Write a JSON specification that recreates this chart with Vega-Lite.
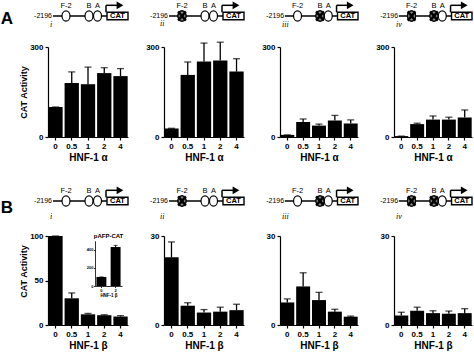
{
  "$schema": "https://vega.github.io/schema/vega-lite/v6.json",
  "autosize": {"type": "none"},
  "padding": {"left": 48, "top": 5, "right": 426, "bottom": 348},
  "background": "white",
  "columns": 4,
  "bounds": "flush",
  "align": "each",
  "spacing": {"row": 10, "column": 36},
  "datasets": {
    "bars": [
      {"panel": "A-i", "dose": "0", "value": 100, "hi": 100},
      {"panel": "A-i", "dose": "0.5", "value": 180, "hi": 217},
      {"panel": "A-i", "dose": "1", "value": 176, "hi": 233},
      {"panel": "A-i", "dose": "2", "value": 213, "hi": 231},
      {"panel": "A-i", "dose": "4", "value": 203, "hi": 228},
      {"panel": "A-ii", "dose": "0", "value": 28, "hi": 29},
      {"panel": "A-ii", "dose": "0.5", "value": 207, "hi": 250},
      {"panel": "A-ii", "dose": "1", "value": 252, "hi": 313},
      {"panel": "A-ii", "dose": "2", "value": 255, "hi": 316},
      {"panel": "A-ii", "dose": "4", "value": 218, "hi": 261},
      {"panel": "A-iii", "dose": "0", "value": 7, "hi": 7},
      {"panel": "A-iii", "dose": "0.5", "value": 50, "hi": 60},
      {"panel": "A-iii", "dose": "1", "value": 38, "hi": 43},
      {"panel": "A-iii", "dose": "2", "value": 55, "hi": 72},
      {"panel": "A-iii", "dose": "4", "value": 45, "hi": 57},
      {"panel": "A-iv", "dose": "0", "value": 3, "hi": 3},
      {"panel": "A-iv", "dose": "0.5", "value": 43, "hi": 46},
      {"panel": "A-iv", "dose": "1", "value": 58, "hi": 70},
      {"panel": "A-iv", "dose": "2", "value": 58, "hi": 66},
      {"panel": "A-iv", "dose": "4", "value": 65, "hi": 90},
      {"panel": "B-i", "dose": "0", "value": 100, "hi": 100},
      {"panel": "B-i", "dose": "0.5", "value": 30, "hi": 36},
      {"panel": "B-i", "dose": "1", "value": 12, "hi": 13},
      {"panel": "B-i", "dose": "2", "value": 11, "hi": 11.5},
      {"panel": "B-i", "dose": "4", "value": 9.5, "hi": 10.5},
      {"panel": "B-ii", "dose": "0", "value": 22.8, "hi": 28},
      {"panel": "B-ii", "dose": "0.5", "value": 6.5, "hi": 7.5},
      {"panel": "B-ii", "dose": "1", "value": 4.2, "hi": 5.2},
      {"panel": "B-ii", "dose": "2", "value": 4.5, "hi": 6},
      {"panel": "B-ii", "dose": "4", "value": 5, "hi": 7},
      {"panel": "B-iii", "dose": "0", "value": 7.6, "hi": 8.8},
      {"panel": "B-iii", "dose": "0.5", "value": 13, "hi": 17.6},
      {"panel": "B-iii", "dose": "1", "value": 8.4, "hi": 11},
      {"panel": "B-iii", "dose": "2", "value": 4.5, "hi": 5.3},
      {"panel": "B-iii", "dose": "4", "value": 2.8, "hi": 3},
      {"panel": "B-iv", "dose": "0", "value": 3.2, "hi": 4.3},
      {"panel": "B-iv", "dose": "0.5", "value": 4.8, "hi": 6},
      {"panel": "B-iv", "dose": "1", "value": 4, "hi": 4.8},
      {"panel": "B-iv", "dose": "2", "value": 3.8, "hi": 4.7},
      {"panel": "B-iv", "dose": "4", "value": 4, "hi": 5.5}
    ],
    "inset": [
      {"dose": "0", "value": 100, "hi": 100},
      {"dose": "2", "value": 430, "hi": 448}
    ],
    "promoter": [
      {"element": "-2196", "kind": "label", "pos": -5},
      {"element": "line", "kind": "line", "start": 5, "end": 60},
      {"element": "F-2", "kind": "site", "pos": 18},
      {"element": "B", "kind": "site", "pos": 41},
      {"element": "A", "kind": "site", "pos": 49.5},
      {"element": "TSS", "kind": "tss", "start": 58, "end": 72},
      {"element": "CAT", "kind": "gene", "start": 59, "end": 80, "pos": 69.5}
    ],
    "mutations": [
      {"col": "ii", "site": "F-2", "pos": 18},
      {"col": "iii", "site": "B", "pos": 41},
      {"col": "iv", "site": "F-2", "pos": 18},
      {"col": "iv", "site": "B", "pos": 41}
    ]
  },
  "concat": [
    {
      "width": 80, "height": 32,
      "data": {"name": "promoter"},
      "layer": [
        {"transform": [{"filter": "datum.kind === 'line'"}], "mark": {"type": "rule", "color": "black", "strokeWidth": 1.3},
         "encoding": {"x": {"field": "start", "type": "quantitative", "scale": {"domain": [0, 80], "nice": false, "zero": false}, "axis": null}, "x2": {"field": "end"},
                      "y": {"datum": 0, "type": "quantitative", "scale": {"domain": [-21, 11], "nice": false, "zero": false}, "axis": null}}},
        {"transform": [{"filter": "datum.kind === 'tss'"}], "mark": {"type": "rule", "color": "black", "strokeWidth": 1.5},
         "encoding": {"x": {"field": "start", "type": "quantitative"}, "y": {"datum": 3.7, "type": "quantitative"}, "y2": {"datum": 10.7}}},
        {"transform": [{"filter": "datum.kind === 'tss'"}], "mark": {"type": "rule", "color": "black", "strokeWidth": 1.5},
         "encoding": {"x": {"field": "start", "type": "quantitative"}, "x2": {"field": "end"}, "y": {"datum": 10.7, "type": "quantitative"}}},
        {"transform": [{"filter": "datum.kind === 'tss'"}], "mark": {"type": "point", "shape": "triangle-right", "size": 60, "filled": true, "color": "black", "opacity": 1},
         "encoding": {"x": {"field": "end", "type": "quantitative"}, "y": {"datum": 10.7, "type": "quantitative"}}},
        {"transform": [{"filter": "datum.kind === 'gene'"}], "mark": {"type": "rect", "fill": "white", "stroke": "black", "strokeWidth": 1.4},
         "encoding": {"x": {"field": "start", "type": "quantitative"}, "x2": {"field": "end"}, "y": {"datum": -3.8, "type": "quantitative"}, "y2": {"datum": 3.8}}},
        {"transform": [{"filter": "datum.kind === 'gene'"}], "mark": {"type": "text", "fontWeight": "bold", "fontSize": 7.5, "baseline": "middle", "align": "center", "color": "black"},
         "encoding": {"x": {"field": "pos", "type": "quantitative"}, "y": {"datum": 0, "type": "quantitative"}, "text": {"field": "element"}}},
        {"transform": [{"filter": "datum.kind === 'site'"}], "mark": {"type": "point", "shape": "M0,-1A0.78,1 0 1,1 0,1A0.78,1 0 1,1 0,-1Z", "size": 105, "filled": true, "fill": "white", "stroke": "black", "strokeWidth": 1.2, "opacity": 1},
         "encoding": {"x": {"field": "pos", "type": "quantitative"}, "y": {"datum": 0, "type": "quantitative"}}},
        {"transform": [{"filter": "datum.kind === 'site'"}], "mark": {"type": "text", "fontSize": 7.5, "baseline": "middle", "align": "center", "color": "black"},
         "encoding": {"x": {"field": "pos", "type": "quantitative"}, "y": {"datum": 10.5, "type": "quantitative"}, "text": {"field": "element"}}},
        {"transform": [{"filter": "datum.kind === 'label'"}], "mark": {"type": "text", "fontSize": 7, "baseline": "middle", "align": "center", "color": "black"},
         "encoding": {"x": {"field": "pos", "type": "quantitative"}, "y": {"datum": 0, "type": "quantitative"}, "text": {"field": "element"}}},
        {"data": {"values": [{"letter": "A"}]}, "mark": {"type": "text", "fontSize": 17, "fontWeight": "bold", "baseline": "middle", "align": "center", "color": "black"},
         "encoding": {"x": {"datum": -41, "type": "quantitative"}, "y": {"datum": -2.7, "type": "quantitative"}, "text": {"field": "letter"}}}
      ]
    },
    {
      "width": 80, "height": 32,
      "data": {"name": "promoter"},
      "layer": [
        {"transform": [{"filter": "datum.kind === 'line'"}], "mark": {"type": "rule", "color": "black", "strokeWidth": 1.3},
         "encoding": {"x": {"field": "start", "type": "quantitative", "scale": {"domain": [0, 80], "nice": false, "zero": false}, "axis": null}, "x2": {"field": "end"},
                      "y": {"datum": 0, "type": "quantitative", "scale": {"domain": [-21, 11], "nice": false, "zero": false}, "axis": null}}},
        {"transform": [{"filter": "datum.kind === 'tss'"}], "mark": {"type": "rule", "color": "black", "strokeWidth": 1.5},
         "encoding": {"x": {"field": "start", "type": "quantitative"}, "y": {"datum": 3.7, "type": "quantitative"}, "y2": {"datum": 10.7}}},
        {"transform": [{"filter": "datum.kind === 'tss'"}], "mark": {"type": "rule", "color": "black", "strokeWidth": 1.5},
         "encoding": {"x": {"field": "start", "type": "quantitative"}, "x2": {"field": "end"}, "y": {"datum": 10.7, "type": "quantitative"}}},
        {"transform": [{"filter": "datum.kind === 'tss'"}], "mark": {"type": "point", "shape": "triangle-right", "size": 60, "filled": true, "color": "black", "opacity": 1},
         "encoding": {"x": {"field": "end", "type": "quantitative"}, "y": {"datum": 10.7, "type": "quantitative"}}},
        {"transform": [{"filter": "datum.kind === 'gene'"}], "mark": {"type": "rect", "fill": "white", "stroke": "black", "strokeWidth": 1.4},
         "encoding": {"x": {"field": "start", "type": "quantitative"}, "x2": {"field": "end"}, "y": {"datum": -3.8, "type": "quantitative"}, "y2": {"datum": 3.8}}},
        {"transform": [{"filter": "datum.kind === 'gene'"}], "mark": {"type": "text", "fontWeight": "bold", "fontSize": 7.5, "baseline": "middle", "align": "center", "color": "black"},
         "encoding": {"x": {"field": "pos", "type": "quantitative"}, "y": {"datum": 0, "type": "quantitative"}, "text": {"field": "element"}}},
        {"transform": [{"filter": "datum.kind === 'site'"}], "mark": {"type": "point", "shape": "M0,-1A0.78,1 0 1,1 0,1A0.78,1 0 1,1 0,-1Z", "size": 105, "filled": true, "fill": "white", "stroke": "black", "strokeWidth": 1.2, "opacity": 1},
         "encoding": {"x": {"field": "pos", "type": "quantitative"}, "y": {"datum": 0, "type": "quantitative"}}},
        {"data": {"name": "mutations"}, "transform": [{"filter": "datum.col === 'ii'"}], "mark": {"type": "point", "shape": "M0,-1A0.78,1 0 1,1 0,1A0.78,1 0 1,1 0,-1Z", "size": 105, "filled": true, "fill": "#8a8a8a", "stroke": "black", "strokeWidth": 1.2, "opacity": 1},
         "encoding": {"x": {"field": "pos", "type": "quantitative"}, "y": {"datum": 0, "type": "quantitative"}}},
        {"data": {"name": "mutations"}, "transform": [{"filter": "datum.col === 'ii'"}], "mark": {"type": "point", "shape": "M-0.75,-0.9L0.75,0.9M0.75,-0.9L-0.75,0.9", "size": 105, "filled": false, "stroke": "black", "strokeWidth": 2.4, "opacity": 1},
         "encoding": {"x": {"field": "pos", "type": "quantitative"}, "y": {"datum": 0, "type": "quantitative"}}},
        {"transform": [{"filter": "datum.kind === 'site'"}], "mark": {"type": "text", "fontSize": 7.5, "baseline": "middle", "align": "center", "color": "black"},
         "encoding": {"x": {"field": "pos", "type": "quantitative"}, "y": {"datum": 10.5, "type": "quantitative"}, "text": {"field": "element"}}},
        {"transform": [{"filter": "datum.kind === 'label'"}], "mark": {"type": "text", "fontSize": 7, "baseline": "middle", "align": "center", "color": "black"},
         "encoding": {"x": {"field": "pos", "type": "quantitative"}, "y": {"datum": 0, "type": "quantitative"}, "text": {"field": "element"}}}
      ]
    },
    {
      "width": 78, "height": 32,
      "data": {"name": "promoter"},
      "layer": [
        {"transform": [{"filter": "datum.kind === 'line'"}], "mark": {"type": "rule", "color": "black", "strokeWidth": 1.3},
         "encoding": {"x": {"field": "start", "type": "quantitative", "scale": {"domain": [0, 80], "nice": false, "zero": false}, "axis": null}, "x2": {"field": "end"},
                      "y": {"datum": 0, "type": "quantitative", "scale": {"domain": [-21, 11], "nice": false, "zero": false}, "axis": null}}},
        {"transform": [{"filter": "datum.kind === 'tss'"}], "mark": {"type": "rule", "color": "black", "strokeWidth": 1.5},
         "encoding": {"x": {"field": "start", "type": "quantitative"}, "y": {"datum": 3.7, "type": "quantitative"}, "y2": {"datum": 10.7}}},
        {"transform": [{"filter": "datum.kind === 'tss'"}], "mark": {"type": "rule", "color": "black", "strokeWidth": 1.5},
         "encoding": {"x": {"field": "start", "type": "quantitative"}, "x2": {"field": "end"}, "y": {"datum": 10.7, "type": "quantitative"}}},
        {"transform": [{"filter": "datum.kind === 'tss'"}], "mark": {"type": "point", "shape": "triangle-right", "size": 60, "filled": true, "color": "black", "opacity": 1},
         "encoding": {"x": {"field": "end", "type": "quantitative"}, "y": {"datum": 10.7, "type": "quantitative"}}},
        {"transform": [{"filter": "datum.kind === 'gene'"}], "mark": {"type": "rect", "fill": "white", "stroke": "black", "strokeWidth": 1.4},
         "encoding": {"x": {"field": "start", "type": "quantitative"}, "x2": {"field": "end"}, "y": {"datum": -3.8, "type": "quantitative"}, "y2": {"datum": 3.8}}},
        {"transform": [{"filter": "datum.kind === 'gene'"}], "mark": {"type": "text", "fontWeight": "bold", "fontSize": 7.5, "baseline": "middle", "align": "center", "color": "black"},
         "encoding": {"x": {"field": "pos", "type": "quantitative"}, "y": {"datum": 0, "type": "quantitative"}, "text": {"field": "element"}}},
        {"transform": [{"filter": "datum.kind === 'site'"}], "mark": {"type": "point", "shape": "M0,-1A0.78,1 0 1,1 0,1A0.78,1 0 1,1 0,-1Z", "size": 105, "filled": true, "fill": "white", "stroke": "black", "strokeWidth": 1.2, "opacity": 1},
         "encoding": {"x": {"field": "pos", "type": "quantitative"}, "y": {"datum": 0, "type": "quantitative"}}},
        {"data": {"name": "mutations"}, "transform": [{"filter": "datum.col === 'iii'"}], "mark": {"type": "point", "shape": "M0,-1A0.78,1 0 1,1 0,1A0.78,1 0 1,1 0,-1Z", "size": 105, "filled": true, "fill": "#8a8a8a", "stroke": "black", "strokeWidth": 1.2, "opacity": 1},
         "encoding": {"x": {"field": "pos", "type": "quantitative"}, "y": {"datum": 0, "type": "quantitative"}}},
        {"data": {"name": "mutations"}, "transform": [{"filter": "datum.col === 'iii'"}], "mark": {"type": "point", "shape": "M-0.75,-0.9L0.75,0.9M0.75,-0.9L-0.75,0.9", "size": 105, "filled": false, "stroke": "black", "strokeWidth": 2.4, "opacity": 1},
         "encoding": {"x": {"field": "pos", "type": "quantitative"}, "y": {"datum": 0, "type": "quantitative"}}},
        {"transform": [{"filter": "datum.kind === 'site'"}], "mark": {"type": "text", "fontSize": 7.5, "baseline": "middle", "align": "center", "color": "black"},
         "encoding": {"x": {"field": "pos", "type": "quantitative"}, "y": {"datum": 10.5, "type": "quantitative"}, "text": {"field": "element"}}},
        {"transform": [{"filter": "datum.kind === 'label'"}], "mark": {"type": "text", "fontSize": 7, "baseline": "middle", "align": "center", "color": "black"},
         "encoding": {"x": {"field": "pos", "type": "quantitative"}, "y": {"datum": 0, "type": "quantitative"}, "text": {"field": "element"}}}
      ]
    },
    {
      "width": 78, "height": 32,
      "data": {"name": "promoter"},
      "layer": [
        {"transform": [{"filter": "datum.kind === 'line'"}], "mark": {"type": "rule", "color": "black", "strokeWidth": 1.3},
         "encoding": {"x": {"field": "start", "type": "quantitative", "scale": {"domain": [0, 80], "nice": false, "zero": false}, "axis": null}, "x2": {"field": "end"},
                      "y": {"datum": 0, "type": "quantitative", "scale": {"domain": [-21, 11], "nice": false, "zero": false}, "axis": null}}},
        {"transform": [{"filter": "datum.kind === 'tss'"}], "mark": {"type": "rule", "color": "black", "strokeWidth": 1.5},
         "encoding": {"x": {"field": "start", "type": "quantitative"}, "y": {"datum": 3.7, "type": "quantitative"}, "y2": {"datum": 10.7}}},
        {"transform": [{"filter": "datum.kind === 'tss'"}], "mark": {"type": "rule", "color": "black", "strokeWidth": 1.5},
         "encoding": {"x": {"field": "start", "type": "quantitative"}, "x2": {"field": "end"}, "y": {"datum": 10.7, "type": "quantitative"}}},
        {"transform": [{"filter": "datum.kind === 'tss'"}], "mark": {"type": "point", "shape": "triangle-right", "size": 60, "filled": true, "color": "black", "opacity": 1},
         "encoding": {"x": {"field": "end", "type": "quantitative"}, "y": {"datum": 10.7, "type": "quantitative"}}},
        {"transform": [{"filter": "datum.kind === 'gene'"}], "mark": {"type": "rect", "fill": "white", "stroke": "black", "strokeWidth": 1.4},
         "encoding": {"x": {"field": "start", "type": "quantitative"}, "x2": {"field": "end"}, "y": {"datum": -3.8, "type": "quantitative"}, "y2": {"datum": 3.8}}},
        {"transform": [{"filter": "datum.kind === 'gene'"}], "mark": {"type": "text", "fontWeight": "bold", "fontSize": 7.5, "baseline": "middle", "align": "center", "color": "black"},
         "encoding": {"x": {"field": "pos", "type": "quantitative"}, "y": {"datum": 0, "type": "quantitative"}, "text": {"field": "element"}}},
        {"transform": [{"filter": "datum.kind === 'site'"}], "mark": {"type": "point", "shape": "M0,-1A0.78,1 0 1,1 0,1A0.78,1 0 1,1 0,-1Z", "size": 105, "filled": true, "fill": "white", "stroke": "black", "strokeWidth": 1.2, "opacity": 1},
         "encoding": {"x": {"field": "pos", "type": "quantitative"}, "y": {"datum": 0, "type": "quantitative"}}},
        {"data": {"name": "mutations"}, "transform": [{"filter": "datum.col === 'iv'"}], "mark": {"type": "point", "shape": "M0,-1A0.78,1 0 1,1 0,1A0.78,1 0 1,1 0,-1Z", "size": 105, "filled": true, "fill": "#8a8a8a", "stroke": "black", "strokeWidth": 1.2, "opacity": 1},
         "encoding": {"x": {"field": "pos", "type": "quantitative"}, "y": {"datum": 0, "type": "quantitative"}}},
        {"data": {"name": "mutations"}, "transform": [{"filter": "datum.col === 'iv'"}], "mark": {"type": "point", "shape": "M-0.75,-0.9L0.75,0.9M0.75,-0.9L-0.75,0.9", "size": 105, "filled": false, "stroke": "black", "strokeWidth": 2.4, "opacity": 1},
         "encoding": {"x": {"field": "pos", "type": "quantitative"}, "y": {"datum": 0, "type": "quantitative"}}},
        {"transform": [{"filter": "datum.kind === 'site'"}], "mark": {"type": "text", "fontSize": 7.5, "baseline": "middle", "align": "center", "color": "black"},
         "encoding": {"x": {"field": "pos", "type": "quantitative"}, "y": {"datum": 10.5, "type": "quantitative"}, "text": {"field": "element"}}},
        {"transform": [{"filter": "datum.kind === 'label'"}], "mark": {"type": "text", "fontSize": 7, "baseline": "middle", "align": "center", "color": "black"},
         "encoding": {"x": {"field": "pos", "type": "quantitative"}, "y": {"datum": 0, "type": "quantitative"}, "text": {"field": "element"}}}
      ]
    },
    {
      "width": 80, "height": 90,
      "title": {"text": "i", "offset": 14, "dx": 2},
      "data": {"name": "bars"},
      "transform": [{"filter": "datum.panel === 'A-i'"}],
      "encoding": {"x": {"field": "dose", "type": "nominal", "sort": ["0", "0.5", "1", "2", "4"], "scale": {"paddingInner": 0.12, "paddingOuter": 0.02}, "axis": {"title": "HNF-1 α"}}},
      "layer": [
        {"mark": {"type": "bar", "color": "black"}, "encoding": {"y": {"field": "value", "type": "quantitative", "scale": {"domain": [0, 300], "nice": false}, "axis": {"values": [0, 100, 200, 300], "title": "CAT Activity"}}}},
        {"mark": {"type": "rule", "color": "black", "strokeWidth": 1.3}, "encoding": {"y": {"field": "value", "type": "quantitative"}, "y2": {"field": "hi"}}},
        {"mark": {"type": "tick", "color": "black", "thickness": 1.3, "size": 7}, "encoding": {"y": {"field": "hi", "type": "quantitative"}}}
      ]
    },
    {
      "width": 80, "height": 90,
      "title": {"text": "ii", "offset": 14, "dx": -4},
      "data": {"name": "bars"},
      "transform": [{"filter": "datum.panel === 'A-ii'"}],
      "encoding": {"x": {"field": "dose", "type": "nominal", "sort": ["0", "0.5", "1", "2", "4"], "scale": {"paddingInner": 0.12, "paddingOuter": 0.02}, "axis": {"title": "HNF-1 α"}}},
      "layer": [
        {"mark": {"type": "bar", "color": "black"}, "encoding": {"y": {"field": "value", "type": "quantitative", "scale": {"domain": [0, 300], "nice": false}, "axis": {"values": [0, 100, 200, 300], "title": null}}}},
        {"mark": {"type": "rule", "color": "black", "strokeWidth": 1.3}, "encoding": {"y": {"field": "value", "type": "quantitative"}, "y2": {"field": "hi"}}},
        {"mark": {"type": "tick", "color": "black", "thickness": 1.3, "size": 7}, "encoding": {"y": {"field": "hi", "type": "quantitative"}}}
      ]
    },
    {
      "width": 78, "height": 90,
      "title": {"text": "iii", "offset": 14, "dx": 2},
      "data": {"name": "bars"},
      "transform": [{"filter": "datum.panel === 'A-iii'"}],
      "encoding": {"x": {"field": "dose", "type": "nominal", "sort": ["0", "0.5", "1", "2", "4"], "scale": {"paddingInner": 0.12, "paddingOuter": 0.02}, "axis": {"title": "HNF-1 α"}}},
      "layer": [
        {"mark": {"type": "bar", "color": "black"}, "encoding": {"y": {"field": "value", "type": "quantitative", "scale": {"domain": [0, 300], "nice": false}, "axis": {"values": [0, 100, 200, 300], "title": null}}}},
        {"mark": {"type": "rule", "color": "black", "strokeWidth": 1.3}, "encoding": {"y": {"field": "value", "type": "quantitative"}, "y2": {"field": "hi"}}},
        {"mark": {"type": "tick", "color": "black", "thickness": 1.3, "size": 7}, "encoding": {"y": {"field": "hi", "type": "quantitative"}}}
      ]
    },
    {
      "width": 78, "height": 90,
      "title": {"text": "iv", "offset": 14, "dx": 2},
      "data": {"name": "bars"},
      "transform": [{"filter": "datum.panel === 'A-iv'"}],
      "encoding": {"x": {"field": "dose", "type": "nominal", "sort": ["0", "0.5", "1", "2", "4"], "scale": {"paddingInner": 0.12, "paddingOuter": 0.02}, "axis": {"title": "HNF-1 α"}}},
      "layer": [
        {"mark": {"type": "bar", "color": "black"}, "encoding": {"y": {"field": "value", "type": "quantitative", "scale": {"domain": [0, 300], "nice": false}, "axis": {"values": [0, 100, 200, 300], "title": null}}}},
        {"mark": {"type": "rule", "color": "black", "strokeWidth": 1.3}, "encoding": {"y": {"field": "value", "type": "quantitative"}, "y2": {"field": "hi"}}},
        {"mark": {"type": "tick", "color": "black", "thickness": 1.3, "size": 7}, "encoding": {"y": {"field": "hi", "type": "quantitative"}}}
      ]
    },
    {
      "width": 80, "height": 79,
      "data": {"name": "promoter"},
      "layer": [
        {"transform": [{"filter": "datum.kind === 'line'"}], "mark": {"type": "rule", "color": "black", "strokeWidth": 1.3},
         "encoding": {"x": {"field": "start", "type": "quantitative", "scale": {"domain": [0, 80], "nice": false, "zero": false}, "axis": null}, "x2": {"field": "end"},
                      "y": {"datum": 0, "type": "quantitative", "scale": {"domain": [-25, 54], "nice": false, "zero": false}, "axis": null}}},
        {"transform": [{"filter": "datum.kind === 'tss'"}], "mark": {"type": "rule", "color": "black", "strokeWidth": 1.5},
         "encoding": {"x": {"field": "start", "type": "quantitative"}, "y": {"datum": 3.7, "type": "quantitative"}, "y2": {"datum": 10.7}}},
        {"transform": [{"filter": "datum.kind === 'tss'"}], "mark": {"type": "rule", "color": "black", "strokeWidth": 1.5},
         "encoding": {"x": {"field": "start", "type": "quantitative"}, "x2": {"field": "end"}, "y": {"datum": 10.7, "type": "quantitative"}}},
        {"transform": [{"filter": "datum.kind === 'tss'"}], "mark": {"type": "point", "shape": "triangle-right", "size": 60, "filled": true, "color": "black", "opacity": 1},
         "encoding": {"x": {"field": "end", "type": "quantitative"}, "y": {"datum": 10.7, "type": "quantitative"}}},
        {"transform": [{"filter": "datum.kind === 'gene'"}], "mark": {"type": "rect", "fill": "white", "stroke": "black", "strokeWidth": 1.4},
         "encoding": {"x": {"field": "start", "type": "quantitative"}, "x2": {"field": "end"}, "y": {"datum": -3.8, "type": "quantitative"}, "y2": {"datum": 3.8}}},
        {"transform": [{"filter": "datum.kind === 'gene'"}], "mark": {"type": "text", "fontWeight": "bold", "fontSize": 7.5, "baseline": "middle", "align": "center", "color": "black"},
         "encoding": {"x": {"field": "pos", "type": "quantitative"}, "y": {"datum": 0, "type": "quantitative"}, "text": {"field": "element"}}},
        {"transform": [{"filter": "datum.kind === 'site'"}], "mark": {"type": "point", "shape": "M0,-1A0.78,1 0 1,1 0,1A0.78,1 0 1,1 0,-1Z", "size": 105, "filled": true, "fill": "white", "stroke": "black", "strokeWidth": 1.2, "opacity": 1},
         "encoding": {"x": {"field": "pos", "type": "quantitative"}, "y": {"datum": 0, "type": "quantitative"}}},
        {"transform": [{"filter": "datum.kind === 'site'"}], "mark": {"type": "text", "fontSize": 7.5, "baseline": "middle", "align": "center", "color": "black"},
         "encoding": {"x": {"field": "pos", "type": "quantitative"}, "y": {"datum": 10.5, "type": "quantitative"}, "text": {"field": "element"}}},
        {"transform": [{"filter": "datum.kind === 'label'"}], "mark": {"type": "text", "fontSize": 7, "baseline": "middle", "align": "center", "color": "black"},
         "encoding": {"x": {"field": "pos", "type": "quantitative"}, "y": {"datum": 0, "type": "quantitative"}, "text": {"field": "element"}}},
        {"data": {"values": [{"letter": "B"}]}, "mark": {"type": "text", "fontSize": 17, "fontWeight": "bold", "baseline": "middle", "align": "center", "color": "black"},
         "encoding": {"x": {"datum": -41, "type": "quantitative"}, "y": {"datum": -6.5, "type": "quantitative"}, "text": {"field": "letter"}}}
      ]
    },
    {
      "width": 80, "height": 79,
      "data": {"name": "promoter"},
      "layer": [
        {"transform": [{"filter": "datum.kind === 'line'"}], "mark": {"type": "rule", "color": "black", "strokeWidth": 1.3},
         "encoding": {"x": {"field": "start", "type": "quantitative", "scale": {"domain": [0, 80], "nice": false, "zero": false}, "axis": null}, "x2": {"field": "end"},
                      "y": {"datum": 0, "type": "quantitative", "scale": {"domain": [-25, 54], "nice": false, "zero": false}, "axis": null}}},
        {"transform": [{"filter": "datum.kind === 'tss'"}], "mark": {"type": "rule", "color": "black", "strokeWidth": 1.5},
         "encoding": {"x": {"field": "start", "type": "quantitative"}, "y": {"datum": 3.7, "type": "quantitative"}, "y2": {"datum": 10.7}}},
        {"transform": [{"filter": "datum.kind === 'tss'"}], "mark": {"type": "rule", "color": "black", "strokeWidth": 1.5},
         "encoding": {"x": {"field": "start", "type": "quantitative"}, "x2": {"field": "end"}, "y": {"datum": 10.7, "type": "quantitative"}}},
        {"transform": [{"filter": "datum.kind === 'tss'"}], "mark": {"type": "point", "shape": "triangle-right", "size": 60, "filled": true, "color": "black", "opacity": 1},
         "encoding": {"x": {"field": "end", "type": "quantitative"}, "y": {"datum": 10.7, "type": "quantitative"}}},
        {"transform": [{"filter": "datum.kind === 'gene'"}], "mark": {"type": "rect", "fill": "white", "stroke": "black", "strokeWidth": 1.4},
         "encoding": {"x": {"field": "start", "type": "quantitative"}, "x2": {"field": "end"}, "y": {"datum": -3.8, "type": "quantitative"}, "y2": {"datum": 3.8}}},
        {"transform": [{"filter": "datum.kind === 'gene'"}], "mark": {"type": "text", "fontWeight": "bold", "fontSize": 7.5, "baseline": "middle", "align": "center", "color": "black"},
         "encoding": {"x": {"field": "pos", "type": "quantitative"}, "y": {"datum": 0, "type": "quantitative"}, "text": {"field": "element"}}},
        {"transform": [{"filter": "datum.kind === 'site'"}], "mark": {"type": "point", "shape": "M0,-1A0.78,1 0 1,1 0,1A0.78,1 0 1,1 0,-1Z", "size": 105, "filled": true, "fill": "white", "stroke": "black", "strokeWidth": 1.2, "opacity": 1},
         "encoding": {"x": {"field": "pos", "type": "quantitative"}, "y": {"datum": 0, "type": "quantitative"}}},
        {"data": {"name": "mutations"}, "transform": [{"filter": "datum.col === 'ii'"}], "mark": {"type": "point", "shape": "M0,-1A0.78,1 0 1,1 0,1A0.78,1 0 1,1 0,-1Z", "size": 105, "filled": true, "fill": "#8a8a8a", "stroke": "black", "strokeWidth": 1.2, "opacity": 1},
         "encoding": {"x": {"field": "pos", "type": "quantitative"}, "y": {"datum": 0, "type": "quantitative"}}},
        {"data": {"name": "mutations"}, "transform": [{"filter": "datum.col === 'ii'"}], "mark": {"type": "point", "shape": "M-0.75,-0.9L0.75,0.9M0.75,-0.9L-0.75,0.9", "size": 105, "filled": false, "stroke": "black", "strokeWidth": 2.4, "opacity": 1},
         "encoding": {"x": {"field": "pos", "type": "quantitative"}, "y": {"datum": 0, "type": "quantitative"}}},
        {"transform": [{"filter": "datum.kind === 'site'"}], "mark": {"type": "text", "fontSize": 7.5, "baseline": "middle", "align": "center", "color": "black"},
         "encoding": {"x": {"field": "pos", "type": "quantitative"}, "y": {"datum": 10.5, "type": "quantitative"}, "text": {"field": "element"}}},
        {"transform": [{"filter": "datum.kind === 'label'"}], "mark": {"type": "text", "fontSize": 7, "baseline": "middle", "align": "center", "color": "black"},
         "encoding": {"x": {"field": "pos", "type": "quantitative"}, "y": {"datum": 0, "type": "quantitative"}, "text": {"field": "element"}}}
      ]
    },
    {
      "width": 78, "height": 79,
      "data": {"name": "promoter"},
      "layer": [
        {"transform": [{"filter": "datum.kind === 'line'"}], "mark": {"type": "rule", "color": "black", "strokeWidth": 1.3},
         "encoding": {"x": {"field": "start", "type": "quantitative", "scale": {"domain": [0, 80], "nice": false, "zero": false}, "axis": null}, "x2": {"field": "end"},
                      "y": {"datum": 0, "type": "quantitative", "scale": {"domain": [-25, 54], "nice": false, "zero": false}, "axis": null}}},
        {"transform": [{"filter": "datum.kind === 'tss'"}], "mark": {"type": "rule", "color": "black", "strokeWidth": 1.5},
         "encoding": {"x": {"field": "start", "type": "quantitative"}, "y": {"datum": 3.7, "type": "quantitative"}, "y2": {"datum": 10.7}}},
        {"transform": [{"filter": "datum.kind === 'tss'"}], "mark": {"type": "rule", "color": "black", "strokeWidth": 1.5},
         "encoding": {"x": {"field": "start", "type": "quantitative"}, "x2": {"field": "end"}, "y": {"datum": 10.7, "type": "quantitative"}}},
        {"transform": [{"filter": "datum.kind === 'tss'"}], "mark": {"type": "point", "shape": "triangle-right", "size": 60, "filled": true, "color": "black", "opacity": 1},
         "encoding": {"x": {"field": "end", "type": "quantitative"}, "y": {"datum": 10.7, "type": "quantitative"}}},
        {"transform": [{"filter": "datum.kind === 'gene'"}], "mark": {"type": "rect", "fill": "white", "stroke": "black", "strokeWidth": 1.4},
         "encoding": {"x": {"field": "start", "type": "quantitative"}, "x2": {"field": "end"}, "y": {"datum": -3.8, "type": "quantitative"}, "y2": {"datum": 3.8}}},
        {"transform": [{"filter": "datum.kind === 'gene'"}], "mark": {"type": "text", "fontWeight": "bold", "fontSize": 7.5, "baseline": "middle", "align": "center", "color": "black"},
         "encoding": {"x": {"field": "pos", "type": "quantitative"}, "y": {"datum": 0, "type": "quantitative"}, "text": {"field": "element"}}},
        {"transform": [{"filter": "datum.kind === 'site'"}], "mark": {"type": "point", "shape": "M0,-1A0.78,1 0 1,1 0,1A0.78,1 0 1,1 0,-1Z", "size": 105, "filled": true, "fill": "white", "stroke": "black", "strokeWidth": 1.2, "opacity": 1},
         "encoding": {"x": {"field": "pos", "type": "quantitative"}, "y": {"datum": 0, "type": "quantitative"}}},
        {"data": {"name": "mutations"}, "transform": [{"filter": "datum.col === 'iii'"}], "mark": {"type": "point", "shape": "M0,-1A0.78,1 0 1,1 0,1A0.78,1 0 1,1 0,-1Z", "size": 105, "filled": true, "fill": "#8a8a8a", "stroke": "black", "strokeWidth": 1.2, "opacity": 1},
         "encoding": {"x": {"field": "pos", "type": "quantitative"}, "y": {"datum": 0, "type": "quantitative"}}},
        {"data": {"name": "mutations"}, "transform": [{"filter": "datum.col === 'iii'"}], "mark": {"type": "point", "shape": "M-0.75,-0.9L0.75,0.9M0.75,-0.9L-0.75,0.9", "size": 105, "filled": false, "stroke": "black", "strokeWidth": 2.4, "opacity": 1},
         "encoding": {"x": {"field": "pos", "type": "quantitative"}, "y": {"datum": 0, "type": "quantitative"}}},
        {"transform": [{"filter": "datum.kind === 'site'"}], "mark": {"type": "text", "fontSize": 7.5, "baseline": "middle", "align": "center", "color": "black"},
         "encoding": {"x": {"field": "pos", "type": "quantitative"}, "y": {"datum": 10.5, "type": "quantitative"}, "text": {"field": "element"}}},
        {"transform": [{"filter": "datum.kind === 'label'"}], "mark": {"type": "text", "fontSize": 7, "baseline": "middle", "align": "center", "color": "black"},
         "encoding": {"x": {"field": "pos", "type": "quantitative"}, "y": {"datum": 0, "type": "quantitative"}, "text": {"field": "element"}}}
      ]
    },
    {
      "width": 78, "height": 79,
      "data": {"name": "promoter"},
      "layer": [
        {"transform": [{"filter": "datum.kind === 'line'"}], "mark": {"type": "rule", "color": "black", "strokeWidth": 1.3},
         "encoding": {"x": {"field": "start", "type": "quantitative", "scale": {"domain": [0, 80], "nice": false, "zero": false}, "axis": null}, "x2": {"field": "end"},
                      "y": {"datum": 0, "type": "quantitative", "scale": {"domain": [-25, 54], "nice": false, "zero": false}, "axis": null}}},
        {"transform": [{"filter": "datum.kind === 'tss'"}], "mark": {"type": "rule", "color": "black", "strokeWidth": 1.5},
         "encoding": {"x": {"field": "start", "type": "quantitative"}, "y": {"datum": 3.7, "type": "quantitative"}, "y2": {"datum": 10.7}}},
        {"transform": [{"filter": "datum.kind === 'tss'"}], "mark": {"type": "rule", "color": "black", "strokeWidth": 1.5},
         "encoding": {"x": {"field": "start", "type": "quantitative"}, "x2": {"field": "end"}, "y": {"datum": 10.7, "type": "quantitative"}}},
        {"transform": [{"filter": "datum.kind === 'tss'"}], "mark": {"type": "point", "shape": "triangle-right", "size": 60, "filled": true, "color": "black", "opacity": 1},
         "encoding": {"x": {"field": "end", "type": "quantitative"}, "y": {"datum": 10.7, "type": "quantitative"}}},
        {"transform": [{"filter": "datum.kind === 'gene'"}], "mark": {"type": "rect", "fill": "white", "stroke": "black", "strokeWidth": 1.4},
         "encoding": {"x": {"field": "start", "type": "quantitative"}, "x2": {"field": "end"}, "y": {"datum": -3.8, "type": "quantitative"}, "y2": {"datum": 3.8}}},
        {"transform": [{"filter": "datum.kind === 'gene'"}], "mark": {"type": "text", "fontWeight": "bold", "fontSize": 7.5, "baseline": "middle", "align": "center", "color": "black"},
         "encoding": {"x": {"field": "pos", "type": "quantitative"}, "y": {"datum": 0, "type": "quantitative"}, "text": {"field": "element"}}},
        {"transform": [{"filter": "datum.kind === 'site'"}], "mark": {"type": "point", "shape": "M0,-1A0.78,1 0 1,1 0,1A0.78,1 0 1,1 0,-1Z", "size": 105, "filled": true, "fill": "white", "stroke": "black", "strokeWidth": 1.2, "opacity": 1},
         "encoding": {"x": {"field": "pos", "type": "quantitative"}, "y": {"datum": 0, "type": "quantitative"}}},
        {"data": {"name": "mutations"}, "transform": [{"filter": "datum.col === 'iv'"}], "mark": {"type": "point", "shape": "M0,-1A0.78,1 0 1,1 0,1A0.78,1 0 1,1 0,-1Z", "size": 105, "filled": true, "fill": "#8a8a8a", "stroke": "black", "strokeWidth": 1.2, "opacity": 1},
         "encoding": {"x": {"field": "pos", "type": "quantitative"}, "y": {"datum": 0, "type": "quantitative"}}},
        {"data": {"name": "mutations"}, "transform": [{"filter": "datum.col === 'iv'"}], "mark": {"type": "point", "shape": "M-0.75,-0.9L0.75,0.9M0.75,-0.9L-0.75,0.9", "size": 105, "filled": false, "stroke": "black", "strokeWidth": 2.4, "opacity": 1},
         "encoding": {"x": {"field": "pos", "type": "quantitative"}, "y": {"datum": 0, "type": "quantitative"}}},
        {"transform": [{"filter": "datum.kind === 'site'"}], "mark": {"type": "text", "fontSize": 7.5, "baseline": "middle", "align": "center", "color": "black"},
         "encoding": {"x": {"field": "pos", "type": "quantitative"}, "y": {"datum": 10.5, "type": "quantitative"}, "text": {"field": "element"}}},
        {"transform": [{"filter": "datum.kind === 'label'"}], "mark": {"type": "text", "fontSize": 7, "baseline": "middle", "align": "center", "color": "black"},
         "encoding": {"x": {"field": "pos", "type": "quantitative"}, "y": {"datum": 0, "type": "quantitative"}, "text": {"field": "element"}}}
      ]
    },
    {
      "width": 80, "height": 89,
      "title": {"text": "i", "offset": 11, "dx": 2},
      "layer": [
        {
          "data": {"name": "bars"},
          "transform": [{"filter": "datum.panel === 'B-i'"}],
          "encoding": {"x": {"field": "dose", "type": "nominal", "sort": ["0", "0.5", "1", "2", "4"], "scale": {"paddingInner": 0.12, "paddingOuter": 0.02}, "axis": {"title": "HNF-1 β"}}},
          "layer": [
            {"mark": {"type": "bar", "color": "black"}, "encoding": {"y": {"field": "value", "type": "quantitative", "scale": {"domain": [0, 100], "nice": false}, "axis": {"values": [0, 50, 100], "title": "CAT Activity", "titleY": 35}}}},
            {"mark": {"type": "rule", "color": "black", "strokeWidth": 1.3}, "encoding": {"y": {"field": "value", "type": "quantitative"}, "y2": {"field": "hi"}}},
            {"mark": {"type": "tick", "color": "black", "thickness": 1.3, "size": 7}, "encoding": {"y": {"field": "hi", "type": "quantitative"}}}
          ]
        },
        {
          "data": {"name": "inset"},
          "encoding": {"x": {"field": "dose", "type": "nominal", "sort": ["0", "2"], "scale": {"range": [47, 74], "paddingInner": 0.3, "paddingOuter": 0.1},
                             "axis": {"orient": "bottom", "offset": -39, "title": "HNF-1 β", "labelFontSize": 4, "titleFontSize": 4.5, "tickSize": 1.5, "labelPadding": 0.5, "titlePadding": 0, "domainWidth": 0.8, "tickWidth": 0.8}}},
          "layer": [
            {"mark": {"type": "bar", "color": "black"}, "encoding": {"y": {"field": "value", "type": "quantitative", "scale": {"domain": [0, 500], "range": [50, 4.7], "nice": false},
              "axis": {"orient": "left", "offset": -47, "values": [0, 100, 200, 300, 400, 500], "title": "pAFP-CAT", "titleAngle": 0, "titleX": 13, "titleY": 1, "titleAlign": "center", "titleBaseline": "alphabetic", "titleFontSize": 6, "labelFontSize": 4, "tickSize": 1.5, "labelPadding": 0.5, "domainWidth": 0.8, "tickWidth": 0.8}}}},
            {"mark": {"type": "rule", "color": "black", "strokeWidth": 1}, "encoding": {"y": {"field": "value", "type": "quantitative"}, "y2": {"field": "hi"}}},
            {"mark": {"type": "tick", "color": "black", "thickness": 1, "size": 4}, "encoding": {"y": {"field": "hi", "type": "quantitative"}}}
          ]
        }
      ],
      "resolve": {"scale": {"x": "independent", "y": "independent"}}
    },
    {
      "width": 80, "height": 89,
      "title": {"text": "ii", "offset": 11, "dx": -4},
      "data": {"name": "bars"},
      "transform": [{"filter": "datum.panel === 'B-ii'"}],
      "encoding": {"x": {"field": "dose", "type": "nominal", "sort": ["0", "0.5", "1", "2", "4"], "scale": {"paddingInner": 0.12, "paddingOuter": 0.02}, "axis": {"title": "HNF-1 β"}}},
      "layer": [
        {"mark": {"type": "bar", "color": "black"}, "encoding": {"y": {"field": "value", "type": "quantitative", "scale": {"domain": [0, 30], "nice": false}, "axis": {"values": [0, 10, 20, 30], "title": null}}}},
        {"mark": {"type": "rule", "color": "black", "strokeWidth": 1.3}, "encoding": {"y": {"field": "value", "type": "quantitative"}, "y2": {"field": "hi"}}},
        {"mark": {"type": "tick", "color": "black", "thickness": 1.3, "size": 7}, "encoding": {"y": {"field": "hi", "type": "quantitative"}}}
      ]
    },
    {
      "width": 78, "height": 89,
      "title": {"text": "iii", "offset": 11, "dx": 2},
      "data": {"name": "bars"},
      "transform": [{"filter": "datum.panel === 'B-iii'"}],
      "encoding": {"x": {"field": "dose", "type": "nominal", "sort": ["0", "0.5", "1", "2", "4"], "scale": {"paddingInner": 0.12, "paddingOuter": 0.02}, "axis": {"title": "HNF-1 β"}}},
      "layer": [
        {"mark": {"type": "bar", "color": "black"}, "encoding": {"y": {"field": "value", "type": "quantitative", "scale": {"domain": [0, 30], "nice": false}, "axis": {"values": [0, 10, 20, 30], "title": null}}}},
        {"mark": {"type": "rule", "color": "black", "strokeWidth": 1.3}, "encoding": {"y": {"field": "value", "type": "quantitative"}, "y2": {"field": "hi"}}},
        {"mark": {"type": "tick", "color": "black", "thickness": 1.3, "size": 7}, "encoding": {"y": {"field": "hi", "type": "quantitative"}}}
      ]
    },
    {
      "width": 78, "height": 89,
      "title": {"text": "iv", "offset": 11, "dx": 2},
      "data": {"name": "bars"},
      "transform": [{"filter": "datum.panel === 'B-iv'"}],
      "encoding": {"x": {"field": "dose", "type": "nominal", "sort": ["0", "0.5", "1", "2", "4"], "scale": {"paddingInner": 0.12, "paddingOuter": 0.02}, "axis": {"title": "HNF-1 β"}}},
      "layer": [
        {"mark": {"type": "bar", "color": "black"}, "encoding": {"y": {"field": "value", "type": "quantitative", "scale": {"domain": [0, 30], "nice": false}, "axis": {"values": [0, 10, 20, 30], "title": null}}}},
        {"mark": {"type": "rule", "color": "black", "strokeWidth": 1.3}, "encoding": {"y": {"field": "value", "type": "quantitative"}, "y2": {"field": "hi"}}},
        {"mark": {"type": "tick", "color": "black", "thickness": 1.3, "size": 7}, "encoding": {"y": {"field": "hi", "type": "quantitative"}}}
      ]
    }
  ],
  "config": {
    "view": {"stroke": null},
    "font": "Liberation Sans",
    "axis": {"domainColor": "black", "tickColor": "black", "labelColor": "black", "titleColor": "black", "grid": false,
             "labelFontSize": 8, "labelFontWeight": "bold", "tickSize": 3, "labelPadding": 2,
             "titleFontSize": 10, "titleFontWeight": "bold", "domainWidth": 1.2, "tickWidth": 1.2},
    "axisX": {"labelAngle": 0, "titlePadding": 2},
    "axisY": {"titlePadding": 1, "titleFontSize": 9},
    "title": {"font": "Liberation Serif", "fontStyle": "italic", "fontWeight": "normal", "fontSize": 8, "anchor": "start", "frame": "group", "color": "black", "baseline": "bottom"}
  }
}
